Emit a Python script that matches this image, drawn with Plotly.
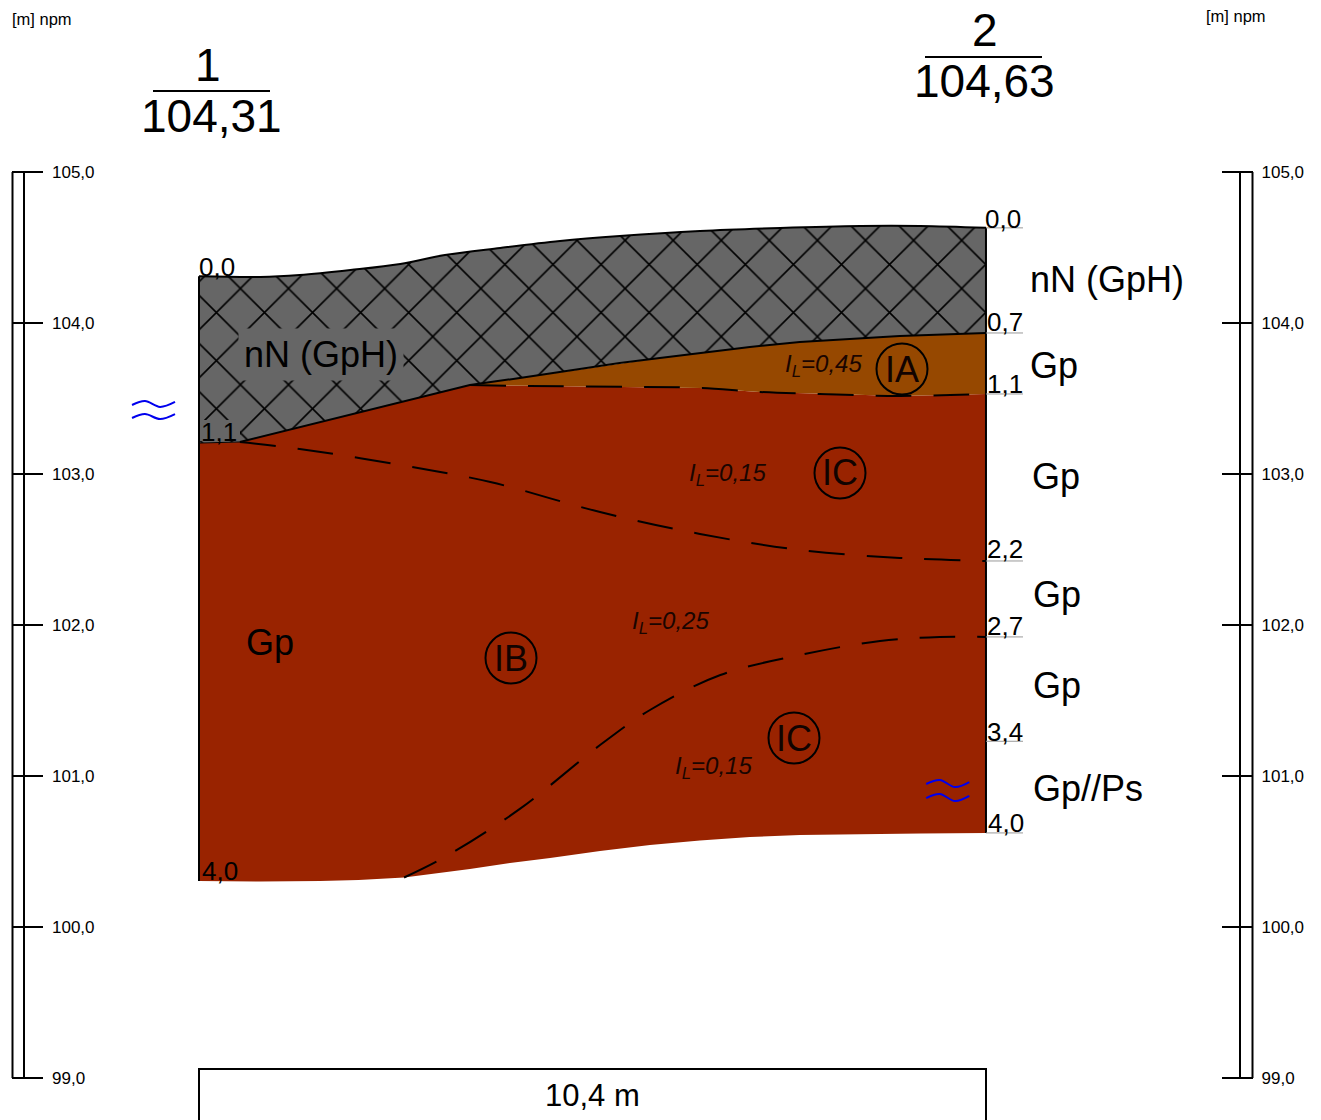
import plotly.graph_objects as go

# ---------- data: section distance [m] and elevation [m npm] ----------
elev_ticks = [105, 104, 103, 102, 101, 100, 99]
elev_tick_labels = ["105,0", "104,0", "103,0", "102,0", "101,0", "100,0", "99,0"]

top_x = [0, 0.81, 1.33, 2.0, 2.66, 3.25, 3.98, 4.77, 5.56, 6.62, 7.68, 8.74, 9.53, 10.4]
top_y = [104.31, 104.305, 104.318, 104.351, 104.391, 104.45, 104.497, 104.543, 104.576, 104.609, 104.629, 104.642, 104.642, 104.63]

fill_base_x = [0, 0.54, 3.58, 4.24, 4.77, 5.56, 6.09, 6.62, 7.28, 7.94, 8.6, 9.26, 10.4]
fill_base_y = [103.205, 103.212, 103.589, 103.636, 103.675, 103.735, 103.768, 103.801, 103.841, 103.874, 103.894, 103.914, 103.934]

ia_base_x = [3.58, 4.37, 5.82, 6.62, 7.41, 8.2, 9.26, 10.4]
ia_base_y = [103.589, 103.583, 103.576, 103.57, 103.543, 103.53, 103.517, 103.53]

bottom_x = [0, 0.81, 1.6, 2.11, 2.71, 3.17, 3.58, 4.11, 4.64, 5.3, 5.96, 6.62, 7.28, 7.94, 8.6, 9.53, 10.4]
bottom_y = [100.305, 100.301, 100.305, 100.311, 100.328, 100.358, 100.384, 100.424, 100.457, 100.503, 100.543, 100.573, 100.596, 100.609, 100.616, 100.619, 100.623]

upper_ic_x = [0.54, 1.33, 2.66, 3.85, 5.3, 6.62, 7.94, 9.26, 10.4]
upper_ic_y = [103.212, 103.166, 103.06, 102.947, 102.748, 102.603, 102.497, 102.444, 102.424]

lower_ic_x = [2.71, 3.25, 4.24, 5.3, 5.96, 6.89, 7.94, 9.0, 9.79, 10.4]
lower_ic_y = [100.328, 100.464, 100.782, 101.205, 101.437, 101.669, 101.801, 101.894, 101.921, 101.921]

boring_right_depth_marks = [104.63, 103.934, 103.53, 102.424, 101.921, 101.23, 100.623]

wave_left_x = [-0.885, -0.714, -0.515, -0.317]
wave_left_y1 = [103.457, 103.483, 103.444, 103.477]
wave_left_y2 = [103.371, 103.397, 103.364, 103.397]
wave_right_x = [9.61, 9.79, 9.99, 10.18]
wave_right_y1 = [100.947, 100.974, 100.927, 100.96]
wave_right_y2 = [100.854, 100.881, 100.834, 100.868]

# ---------- page geometry ----------
W, H = 1321, 1120
SX = 75.67
SY = 151.0
X0_PX, Y105_PX = 199, 172
x_range = [-X0_PX / SX, (W - X0_PX) / SX]
y_range = [99 - (H - 1078) / SY, 105 + Y105_PX / SY]

def xd(px):
    return (px - X0_PX) / SX
def xp(px):
    return px / W
def yp(py):
    return 1 - py / H

GRAY, RED, ORANGE = "#666666", "#992300", "#964800"
FONT = "Liberation Sans"
fig = go.Figure()

def add(x, y, **kw):
    kw.setdefault("mode", "lines")
    kw.setdefault("hoverinfo", "skip")
    kw.setdefault("showlegend", False)
    fig.add_trace(go.Scatter(x=x, y=y, **kw))

SM = dict(shape="spline", smoothing=1.0)

# red soil body
red_x = fill_base_x[:3] + ia_base_x[1:] + bottom_x[::-1]
red_y = fill_base_y[:3] + ia_base_y[1:] + bottom_y[::-1]
add(red_x, red_y, fill="toself", fillcolor=RED, line=dict(width=0))

# orange layer
or_x = fill_base_x[2:] + ia_base_x[::-1]
or_y = fill_base_y[2:] + ia_base_y[::-1]
add(or_x, or_y, fill="toself", fillcolor=ORANGE, line=dict(width=0))

# hatched fill layer
add(top_x + fill_base_x[::-1], top_y + fill_base_y[::-1], fill="toself",
    fillcolor=GRAY, line=dict(width=0),
    fillpattern=dict(shape="x", size=34, solidity=0.09, bgcolor=GRAY, fgcolor="black", fgopacity=1))

# outlines
add(top_x, top_y, line=dict(color="black", width=2, **SM))
add(fill_base_x[1:], fill_base_y[1:], line=dict(color="black", width=2))
add([0, 0], [top_y[0], bottom_y[0]], line=dict(color="black", width=2))
add([10.4, 10.4], [top_y[-1], bottom_y[-1]], line=dict(color="black", width=2))
add([0, 0.54], [fill_base_y[0], fill_base_y[1]], line=dict(color="black", width=1))

# dashed boundaries
DASH = dict(color="black", width=2, dash="36px,22px", **SM)
add(ia_base_x, ia_base_y, line=DASH)
add(upper_ic_x, upper_ic_y, line=DASH)
add(lower_ic_x, lower_ic_y, line=DASH)

# depth marks on the right
for e in boring_right_depth_marks:
    add([10.4, xd(1023)], [e, e], line=dict(color="#999999", width=1))

# groundwater marks
for wx, wy in [(wave_left_x, wave_left_y1), (wave_left_x, wave_left_y2),
               (wave_right_x, wave_right_y1), (wave_right_x, wave_right_y2)]:
    add(wx, wy, line=dict(color="#0000ee", width=2, shape="spline", smoothing=1.0))

# scale rails
for px in (12.5, 24):
    add([xd(px), xd(px)], [105, 99], line=dict(color="black", width=2))
for px in (1240, 1252.5):
    add([xd(px), xd(px)], [105, 99], yaxis="y2", line=dict(color="black", width=2))

def label(text, x, y, size, color="black", **kw):
    fig.add_annotation(text=text, x=xp(x), y=yp(y), xref="paper", yref="paper", showarrow=False,
                       xanchor="center", yanchor="middle", font=dict(family=FONT, size=size, color=color), **kw)

label("[m] npm", 42, 19, 16.5)
label("[m] npm", 1236, 16, 16.5)
label("1", 208, 65, 46)
label("104,31", 211, 116, 46)
label("2", 985, 30, 46)
label("104,63", 984, 81, 46)

label("nN (GpH)", 321, 354, 36, bgcolor=GRAY, borderpad=5)
label("nN (GpH)", 1107, 279, 36)
label("Gp", 270, 642, 36)
label("Gp", 1054, 365, 36)
label("Gp", 1056, 476, 36)
label("Gp", 1057, 594, 36)
label("Gp", 1057, 685, 36)
label("Gp//Ps", 1088, 788, 36)

label("0,0", 217, 267, 26)
label("1,1", 219, 432, 26)
label("4,0", 220, 871, 26)
for text, x, y in [("0,0", 1003, 219), ("0,7", 1005, 322), ("1,1", 1005, 384), ("2,2", 1005, 549),
                   ("2,7", 1005, 626), ("3,4", 1005, 732), ("4,0", 1006, 823)]:
    label(text, x, y, 26)

for text, x, y in [("0,45", 823, 365), ("0,15", 727, 475), ("0,25", 670, 622), ("0,15", 713, 767)]:
    label(f"<i>I<sub>L</sub>=" + text + "</i>", x, y, 24, color="#1a0500")

shapes = [dict(type="rect", xref="paper", yref="paper", x0=xp(200), x1=xp(240), y0=yp(441), y1=yp(420),
               fillcolor=GRAY, line=dict(width=0))]
for text, x, y in [("IA", 902, 369), ("IC", 840, 473), ("IB", 511, 658), ("IC", 794, 738)]:
    label(text, x, y, 36, color="#110300")
    shapes.append(dict(type="circle", xref="paper", yref="paper", x0=xp(x - 25.5), x1=xp(x + 25.5),
                       y0=yp(y + 25.5), y1=yp(y - 25.5), line=dict(color="black", width=2)))

for x0, x1, y in [(153, 270, 91), (925, 1042, 57)]:
    shapes.append(dict(type="line", xref="paper", yref="paper", x0=xp(x0), x1=xp(x1), y0=yp(y), y1=yp(y),
                       line=dict(color="black", width=2)))

# bottom distance box
label("10,4 m", 592, 1095, 31)
shapes.append(dict(type="path", xref="paper", yref="paper",
                   path=f"M {xp(199)} 0 L {xp(199)} {yp(1069)} L {xp(986)} {yp(1069)} L {xp(986)} 0",
                   line=dict(color="black", width=2)))

tick_axis = dict(
    range=y_range, domain=[0, 1], anchor="free", side="right", ticks="inside", ticklen=31,
    tickwidth=2, tickcolor="black", tickmode="array", tickvals=elev_ticks, ticktext=elev_tick_labels,
    tickfont=dict(family=FONT, size=17, color="black"), showgrid=False, zeroline=False,
    showline=False, ticklabelstandoff=8, fixedrange=True,
)
fig.update_layout(
    width=W, height=H, margin=dict(l=0, r=0, t=0, b=0, pad=0, autoexpand=False),
    paper_bgcolor="white", plot_bgcolor="white", showlegend=False,
    xaxis=dict(range=x_range, domain=[0, 1], visible=False, fixedrange=True),
    yaxis=dict(position=43 / W, **tick_axis),
    yaxis2=dict(position=1252.5 / W, overlaying="y", **tick_axis),
    shapes=shapes,
)
fig.write_html("out.html", config={"displayModeBar": False},
               post_script="document.body.style.margin='0';document.documentElement.style.overflow='hidden';")
